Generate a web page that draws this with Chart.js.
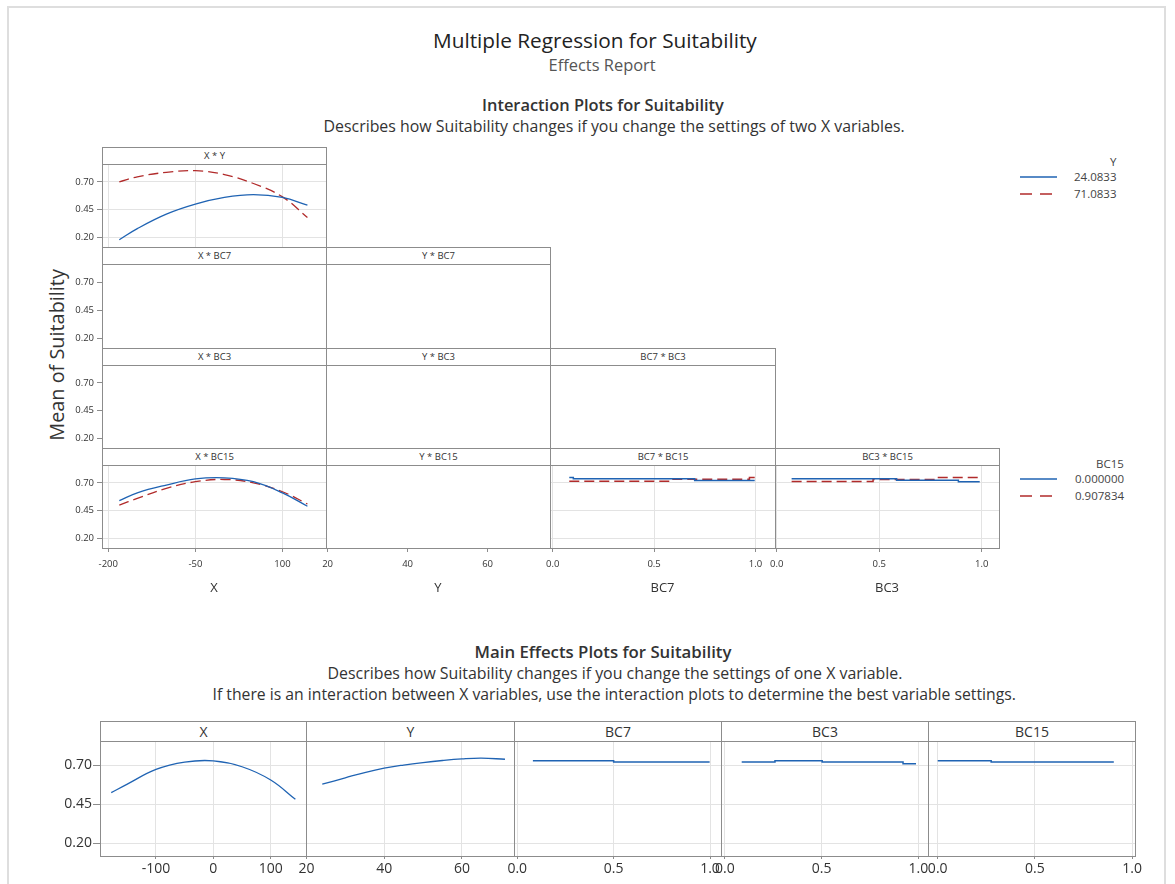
<!DOCTYPE html>
<html>
<head>
<meta charset="utf-8">
<title>Multiple Regression for Suitability</title>
<script src="https://cdn.jsdelivr.net/npm/chart.js@4.4.1/dist/chart.umd.min.js"></script>
<style>
  body { margin: 0; background: #fff; font-family: "Open Sans", sans-serif; }
  #page { position: relative; width: 1175px; height: 884px; overflow: hidden; }
  #frame { position: absolute; left: 7px; top: 6px; width: 1159px; height: 920px; border: 2px solid #dedede; box-sizing: border-box; }
  .t { position: absolute; white-space: nowrap; color: #333; line-height: 1; }
  .box { position: absolute; box-sizing: border-box; border: 1px solid #8c8c8c; pointer-events: none; }
  .hdr { position: absolute; box-sizing: border-box; border: 1px solid #8c8c8c; text-align: center; color: #333; background: #fff; white-space: nowrap; }
  canvas { position: absolute; }
</style>
</head>
<body>
<div id="page"><div id="frame"></div></div>
<script>
// ---- values ----
const vars = ["X", "Y", "BC7", "BC3", "BC15"];
const yTickVals = [0.20, 0.45, 0.70];

// interaction X * Y, Y held at 24.0833 (solid) and 71.0833 (dashed)
const xLevels = [-181, -150, -100, -50, 0, 50, 100, 143];
const xyAtYLow = [0.18, 0.28, 0.41, 0.50, 0.56, 0.585, 0.56, 0.49];
const xyAtYHigh = [0.70, 0.745, 0.785, 0.80, 0.765, 0.685, 0.565, 0.38];

// interaction X * BC15, BC15 at 0.000000 (solid) and 0.907834 (dashed)
const xbcAtLow = [0.54, 0.61, 0.68, 0.735, 0.745, 0.71, 0.61, 0.49];
const xbcAtHigh = [0.50, 0.56, 0.65, 0.71, 0.73, 0.70, 0.62, 0.51];

// interaction BC7 * BC15 (step breaks and levels)
const bc7Breaks = [0.082, 0.102, 0.70, 0.996];
const bc7AtLow = [0.747, 0.736, 0.72, 0.72];
const bc7BreaksHigh = [0.082, 0.578, 0.97, 0.996];
const bc7AtHigh = [0.714, 0.732, 0.747, 0.747];

// interaction BC3 * BC15
const bc3Breaks = [0.073, 0.585, 0.886, 0.99];
const bc3AtLow = [0.736, 0.724, 0.709, 0.709];
const bc3BreaksHigh = [0.073, 0.47, 0.78, 0.99];
const bc3AtHigh = [0.712, 0.73, 0.747, 0.747];

// main effects
const mainXLevels = [-178, -150, -100, -50, 0, 50, 100, 143];
const mainXMeans = [0.523, 0.578, 0.672, 0.719, 0.727, 0.689, 0.604, 0.48];
const mainYLevels = [24.08, 30, 35, 40, 45, 50, 55, 60, 65, 71.08];
const mainYMeans = [0.577, 0.618, 0.652, 0.68, 0.70, 0.716, 0.729, 0.739, 0.744, 0.737];
const mainBC7Breaks = [0.081, 0.5, 0.998];
const mainBC7Means = [0.728, 0.719, 0.719];
const mainBC3Breaks = [0.087, 0.259, 0.503, 0.921, 0.988];
const mainBC3Means = [0.719, 0.728, 0.719, 0.709, 0.709];
const mainBC15Breaks = [0.0, 0.275, 0.906];
const mainBC15Means = [0.728, 0.719, 0.719];

// ---- axis settings ----
const interTicks = { X: [-200, -50, 100], Y: [20, 40, 60], BC7: [0, 0.5, 1], BC3: [0, 0.5, 1] };
const interRange = { X: [-210.8, 175], Y: [19.6, 75.6], BC7: [-0.013, 1.096], BC3: [-0.008, 1.084] };
const mainTicks = { X: [-100, 0, 100], Y: [20, 40, 60], BC7: [0, 0.5, 1], BC3: [0, 0.5, 1], BC15: [0, 0.5, 1] };
const mainRange = { X: [-197.6, 161.5], Y: [19.9, 73.4], BC7: [-0.017, 1.057], BC3: [-0.02, 1.05], BC15: [-0.05, 1.015] };

const BLUE = "#1f63b3", RED = "#b12b2b", GRID = "#e3e3e3", TICK = "#8c8c8c", INK = "#333";
const FONT = "'Open Sans', sans-serif";
const page = document.getElementById("page");

function pts(xs, ys) { return xs.map((x, i) => ({ x: x, y: ys[i] })); }
function curve(xs, ys, dashed) {
  return { data: pts(xs, ys), borderColor: dashed ? RED : BLUE, borderWidth: 1.3,
    borderDash: dashed ? [10, 5] : [], pointRadius: 0, tension: 0.4, fill: false };
}
function steps(xs, ys, dashed) {
  return { data: pts(xs, ys), borderColor: dashed ? RED : BLUE, borderWidth: 1.5,
    borderDash: dashed ? [10, 5] : [], pointRadius: 0, stepped: true, fill: false };
}

function fmt(name) {
  if (name === "X" || name === "Y") return (v) => String(v);
  return (v) => v.toFixed(1);
}

const PAD = 14;
function makePanel(o) {
  const ml = o.yLabels ? o.ml : PAD;
  const c = document.createElement("canvas");
  c.width = o.w + ml + PAD;
  c.height = o.h + o.mb + PAD * 2;
  c.style.left = (o.x - ml) + "px";
  c.style.top = (o.y - PAD) + "px";
  page.appendChild(c);
  new Chart(c, {
    type: "line",
    data: { datasets: o.datasets || [] },
    options: {
      responsive: false, animation: false, events: [],
      layout: { padding: { left: o.yLabels ? 0 : PAD, right: PAD, top: PAD, bottom: PAD } },
      plugins: { legend: { display: false }, tooltip: { enabled: false } },
      scales: {
        x: {
          type: "linear", min: o.range[0], max: o.range[1],
          afterBuildTicks: (s) => { s.ticks = o.ticks.map((v) => ({ value: v })); },
          afterFit: (s) => { s.height = o.mb; },
          border: { display: false },
          grid: { drawOnChartArea: o.grid, drawTicks: o.xLabels, tickLength: o.xtl, color: GRID, tickColor: TICK },
          ticks: { display: o.xLabels, autoSkip: false, maxRotation: 0, padding: o.xtp, color: INK,
            font: { family: FONT, size: o.fs }, callback: o.fmt },
          title: { display: !!o.xTitle, text: o.xTitle || "", color: INK,
            font: { family: FONT, size: 13 }, padding: { top: 0, bottom: 2 } }
        },
        y: {
          min: o.yMin, max: o.yMax,
          afterBuildTicks: (s) => { s.ticks = yTickVals.map((v) => ({ value: v })); },
          afterFit: (s) => { s.width = o.yLabels ? o.ml : 0; },
          border: { display: false },
          grid: { drawOnChartArea: o.grid, drawTicks: o.yLabels, tickLength: o.ytl, color: GRID, tickColor: TICK },
          ticks: { display: o.yLabels, padding: o.ytp, color: INK,
            font: { family: FONT, size: o.fs }, callback: (v) => v.toFixed(2) }
        }
      }
    }
  });
}

function frame(x, y, w, h, hh, label, fs) {
  const b = document.createElement("div");
  b.className = "box";
  Object.assign(b.style, { left: x + "px", top: y + "px", width: (w + 1) + "px", height: (h + 1) + "px" });
  const t = document.createElement("div");
  t.className = "hdr";
  t.textContent = label;
  Object.assign(t.style, { left: x + "px", top: y + "px", width: (w + 1) + "px", height: (hh + 1) + "px",
    lineHeight: (hh - 1) + "px", fontSize: fs + "px" });
  page.appendChild(b);
  page.appendChild(t);
}

// text placed by its centre, with the font size fitted to the measured width
function addText(str, cx, cy, width, o) {
  const s = document.createElement("div");
  s.className = "t";
  s.textContent = str;
  s.style.fontWeight = o.weight || 400;
  s.style.color = o.color || INK;
  s.style.fontSize = "20px";
  page.appendChild(s);
  const size = 20 * width / s.offsetWidth;
  s.style.fontSize = size.toFixed(2) + "px";
  const rw = s.offsetWidth, rh = s.offsetHeight;
  s.style.left = (cx - rw / 2) + "px";
  s.style.top = (cy - rh / 2) + "px";
  if (o.rotate) s.style.transform = "rotate(-90deg)";
}

function addLegendText(str, right, cy, size) {
  const s = document.createElement("div");
  s.className = "t";
  s.textContent = str;
  s.style.fontSize = size + "px";
  s.style.color = "#444";
  page.appendChild(s);
  s.style.left = (right - s.offsetWidth) + "px";
  s.style.top = (cy - s.offsetHeight / 2) + "px";
}

function legendLines(x, y1, y2) {
  const ns = "http://www.w3.org/2000/svg";
  const svg = document.createElementNS(ns, "svg");
  svg.setAttribute("width", 40);
  svg.setAttribute("height", y2 - y1 + 6);
  svg.style.position = "absolute";
  svg.style.left = x + "px";
  svg.style.top = (y1 - 3) + "px";
  [[3, BLUE, ""], [y2 - y1 + 3, RED, "12 8"]].forEach(([yy, col, dash]) => {
    const l = document.createElementNS(ns, "line");
    l.setAttribute("x1", 0); l.setAttribute("x2", 37);
    l.setAttribute("y1", yy); l.setAttribute("y2", yy);
    l.setAttribute("stroke", col); l.setAttribute("stroke-width", 1.3);
    if (dash) l.setAttribute("stroke-dasharray", dash);
    svg.appendChild(l);
  });
  page.appendChild(svg);
}

// ---- titles ----
addText("Multiple Regression for Suitability", 595, 40, 324, { color: "#222" });
addText("Effects Report", 602, 65, 107, { color: "#555" });
addText("Interaction Plots for Suitability", 603, 105, 242, { weight: 600 });
addText("Describes how Suitability changes if you change the settings of two X variables.", 614, 127, 582, {});
addText("Main Effects Plots for Suitability", 603, 652, 257, { weight: 600 });
addText("Describes how Suitability changes if you change the settings of one X variable.", 615, 674, 575, {});
addText("If there is an interaction between X variables, use the interaction plots to determine the best variable settings.", 614, 695, 803, {});
addText("Mean of Suitability", 57, 355, 172, { rotate: true });

// ---- interaction plots ----
const interData = {
  "X*Y": [curve(xLevels, xyAtYLow), curve(xLevels, xyAtYHigh, true)],
  "X*BC15": [curve(xLevels, xbcAtLow), curve(xLevels, xbcAtHigh, true)],
  "BC7*BC15": [steps(bc7Breaks, bc7AtLow), steps(bc7BreaksHigh, bc7AtHigh, true)],
  "BC3*BC15": [steps(bc3Breaks, bc3AtLow), steps(bc3BreaksHigh, bc3AtHigh, true)]
};
const rowTops = [147, 247, 348, 448, 548];
const colEdges = [102, 326, 550, 775, 999];
const HH = 17;
for (let r = 0; r < 4; r++) {
  for (let c = 0; c <= r; c++) {
    const a = vars[c], b = vars[r + 1];
    const sets = interData[a + "*" + b];
    const x0 = colEdges[c], x1 = colEdges[c + 1], top = rowTops[r], bot = rowTops[r + 1];
    const bottomRow = r === 3;
    makePanel({
      x: x0, y: top + HH, w: x1 - x0, h: bot - top - HH,
      yLabels: c === 0, ml: 36, ytl: 5, ytp: 3,
      xLabels: bottomRow, mb: bottomRow ? 50 : 0, xtl: 4, xtp: 7, xTitle: bottomRow ? a : null,
      grid: !!sets, datasets: sets, fs: 9.5,
      range: interRange[a], ticks: interTicks[a], fmt: fmt(a), yMin: 0.115, yMax: 0.86
    });
    frame(x0, top, x1 - x0, bot - top, HH, a + " * " + b, 9.5);
  }
}

// legends
addLegendText("Y", 1116, 162, 11.5);
legendLines(1020, 177, 194);
addLegendText("24.0833", 1116, 177, 11.5);
addLegendText("71.0833", 1116, 194, 11.5);
addLegendText("BC15", 1124, 464, 11.5);
legendLines(1020, 479, 496);
addLegendText("0.000000", 1124, 479, 11.5);
addLegendText("0.907834", 1124, 496, 11.5);

// ---- main effects plots ----
const mainData = {
  X: [curve(mainXLevels, mainXMeans)],
  Y: [curve(mainYLevels, mainYMeans)],
  BC7: [steps(mainBC7Breaks, mainBC7Means)],
  BC3: [steps(mainBC3Breaks, mainBC3Means)],
  BC15: [steps(mainBC15Breaks, mainBC15Means)]
};
const mainEdges = [100, 306, 514, 721, 928, 1135];
const MTOP = 721, MHH = 20, MBOT = 856;
vars.forEach((v, i) => {
  const x0 = mainEdges[i], x1 = mainEdges[i + 1];
  makePanel({
    x: x0, y: MTOP + MHH, w: x1 - x0, h: MBOT - MTOP - MHH,
    yLabels: i === 0, ml: 46, ytl: 7, ytp: 1,
    xLabels: true, mb: 30, xtl: 3, xtp: 2, xTitle: null,
    grid: true, datasets: mainData[v], fs: 14,
    range: mainRange[v], ticks: mainTicks[v], fmt: fmt(v), yMin: 0.117, yMax: 0.854
  });
  frame(x0, MTOP, x1 - x0, MBOT - MTOP, MHH, v, 14);
});
</script>
</body>
</html>
